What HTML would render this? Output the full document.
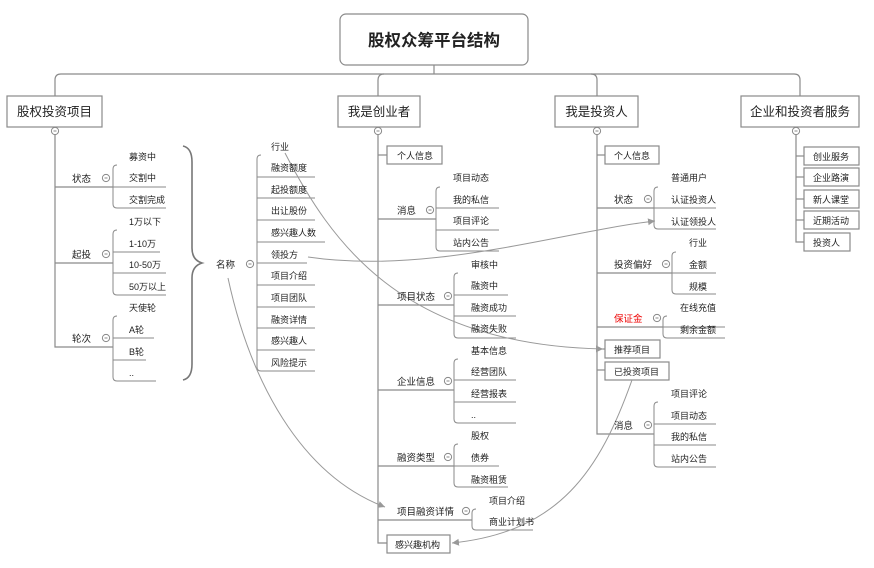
<!DOCTYPE html>
<html><head><meta charset="utf-8"><style>
html,body{margin:0;padding:0;background:#fff}
svg{display:block}
text{font-family:"Liberation Sans","Noto Sans CJK SC",sans-serif;fill:#222}
.s{font-size:9px}
.l{font-size:9.5px}
.b{font-size:12.5px}
</style></head><body>
<svg width="874" height="568" viewBox="0 0 874 568" xmlns="http://www.w3.org/2000/svg">
<defs>
<marker id="ar" markerWidth="8" markerHeight="8" refX="7" refY="4" orient="auto" markerUnits="userSpaceOnUse"><path d="M0,0.5 L7,4 L0,7.5 Z" fill="#999"/></marker>
</defs>
<g fill="none" stroke="#8a8a8a" stroke-width="1.2">
<!-- top connectors -->
<line x1="434" y1="65" x2="434" y2="74"/>
<path d="M55,96 V80 Q55,74 61,74 H794 Q800,74 800,80 V96"/>
<path d="M378,96 V80 Q378,74 384,74"/>
<path d="M597,96 V80 Q597,74 591,74"/>
<!-- left tree -->
<path d="M55,135 V347 H113"/>
<line x1="55" y1="187" x2="113" y2="187"/>
<line x1="55" y1="263" x2="113" y2="263"/>
<!-- creator -->
<path d="M378,135 V543 H387"/>
<line x1="378" y1="155" x2="387" y2="155"/>
<line x1="378" y1="219" x2="436" y2="219"/>
<line x1="378" y1="305" x2="454" y2="305"/>
<line x1="378" y1="390" x2="454" y2="390"/>
<line x1="378" y1="466" x2="454" y2="466"/>
<line x1="378" y1="520" x2="472" y2="520"/>
<!-- investor -->
<path d="M597,135 V434 H654"/>
<line x1="597" y1="155" x2="605" y2="155"/>
<line x1="597" y1="208" x2="654" y2="208"/>
<line x1="597" y1="273" x2="672" y2="273"/>
<line x1="597" y1="327" x2="663" y2="327"/>
<line x1="597" y1="349" x2="605" y2="349"/>
<line x1="597" y1="370" x2="605" y2="370"/>
<!-- service -->
<path d="M796,135 V242 H804"/>
<line x1="796" y1="156" x2="804" y2="156"/>
<line x1="796" y1="177" x2="804" y2="177"/>
<line x1="796" y1="199" x2="804" y2="199"/>
<line x1="796" y1="220" x2="804" y2="220"/>
</g>
<g fill="none" stroke="#8a8a8a" stroke-width="1">
<!-- brackets: M x+4,y1 Q x,y1 x,y1+4 V yN-4 Q x,yN x+4,yN -->
<path d="M117,165 Q113,165 113,169 V204 Q113,208 117,208 H166 M113,187 H166"/>
<path d="M117,230 Q113,230 113,234 V291 Q113,295 117,295 H166 M113,252 H160 M113,273 H166"/>
<path d="M117,316 Q113,316 113,320 V377 Q113,381 117,381 H156 M113,338 H154 M113,360 H146"/>
<path d="M261,155 Q257,155 257,159 V367 Q257,371 261,371 H315 M257,177 H315 M257,198 H315 M257,220 H315 M257,242 H325 M257,263 H307 M257,285 H315 M257,307 H315 M257,328 H315 M257,350 H315"/>
<path d="M440,187 Q436,187 436,191 V247 Q436,251 440,251 H499 M436,208 H499 M436,230 H499"/>
<path d="M458,273 Q454,273 454,277 V334 Q454,338 458,338 H516 M454,295 H508 M454,316 H516"/>
<path d="M458,359 Q454,359 454,363 V419 Q454,423 458,423 H516 M454,380 H516 M454,402 H516"/>
<path d="M458,444 Q454,444 454,448 V483 Q454,487 458,487 H508 M454,466 H499"/>
<path d="M476,509 Q472,509 472,513 V526 Q472,530 476,530 H533 M472,520 H472"/>
<path d="M658,187 Q654,187 654,191 V225 Q654,229 658,229 H716 M654,208 H716"/>
<path d="M676,252 Q672,252 672,256 V290 Q672,294 676,294 H716 M672,273 H716"/>
<path d="M667,316 Q663,316 663,320 V334 Q663,338 667,338 H725 M663,327 H725"/>
<path d="M658,402 Q654,402 654,406 V463 Q654,467 658,467 H716 M654,424 H716 M654,445 H716"/>
<!-- big brace -->
<path d="M183,146 Q192,148 192,162 V248 Q192,260 202,263 Q192,266 192,278 V364 Q192,378 183,380" stroke="#777" stroke-width="1.6"/>
</g>
<!-- boxes -->
<g fill="#fff" stroke="#8a8a8a" stroke-width="1.2">
<rect x="340" y="14" width="188" height="51" rx="6"/>
<rect x="7" y="96" width="95" height="31"/>
<rect x="338" y="96" width="82" height="31"/>
<rect x="555" y="96" width="83" height="31"/>
<rect x="741" y="96" width="118" height="31"/>
<rect x="387" y="146" width="55" height="18"/>
<rect x="387" y="535" width="63" height="18"/>
<rect x="605" y="146" width="54" height="18"/>
<rect x="605" y="340" width="55" height="18"/>
<rect x="605" y="362" width="64" height="18"/>
<rect x="804" y="147" width="55" height="18"/>
<rect x="804" y="168" width="55" height="18"/>
<rect x="804" y="190" width="55" height="18"/>
<rect x="804" y="211" width="55" height="18"/>
<rect x="804" y="233" width="46" height="18"/>
</g>
<!-- collapse circles -->
<g fill="#fff" stroke="#888" stroke-width="1">
<circle cx="55" cy="131" r="3.6"/><circle cx="378" cy="131" r="3.6"/><circle cx="597" cy="131" r="3.6"/><circle cx="796" cy="131" r="3.6"/>
<circle cx="106" cy="178" r="3.6"/><circle cx="106" cy="254" r="3.6"/><circle cx="106" cy="338" r="3.6"/>
<circle cx="250" cy="264" r="3.6"/>
<circle cx="430" cy="210" r="3.6"/><circle cx="448" cy="296" r="3.6"/><circle cx="448" cy="381" r="3.6"/><circle cx="448" cy="457" r="3.6"/><circle cx="466" cy="511" r="3.6"/>
<circle cx="648" cy="199" r="3.6"/><circle cx="666" cy="264" r="3.6"/><circle cx="657" cy="318" r="3.6"/><circle cx="648" cy="425" r="3.6"/>
</g>
<g stroke="#888" stroke-width="1">
<path d="M53.5,131h3M376.5,131h3M595.5,131h3M794.5,131h3M104.5,178h3M104.5,254h3M104.5,338h3M248.5,264h3M428.5,210h3M446.5,296h3M446.5,381h3M446.5,457h3M464.5,511h3M646.5,199h3M664.5,264h3M655.5,318h3M646.5,425h3"/>
</g>
<!-- cross links -->
<g fill="none" stroke="#999" stroke-width="1">
<path d="M285,153 C330,240 400,345 603,349" marker-end="url(#ar)"/>
<path d="M308,257 C430,275 560,232 655,221" marker-end="url(#ar)"/>
<path d="M228,278 C250,380 300,475 385,507" marker-end="url(#ar)"/>
<path d="M632,380 C600,470 560,532 452,543" marker-end="url(#ar)"/>
</g>
<!-- text -->
<text x="434" y="46" text-anchor="middle" style="font-size:16.5px;font-weight:bold">股权众筹平台结构</text>
<text class="b" x="54.5" y="116" text-anchor="middle">股权投资项目</text>
<text class="b" x="379" y="116" text-anchor="middle">我是创业者</text>
<text class="b" x="596.5" y="116" text-anchor="middle">我是投资人</text>
<text class="b" x="800" y="116" text-anchor="middle">企业和投资者服务</text>
<g class="l">
<text x="72" y="182">状态</text><text x="72" y="258">起投</text><text x="72" y="342">轮次</text>
<text x="216" y="268">名称</text>
<text x="397" y="214">消息</text><text x="397" y="300">项目状态</text><text x="397" y="385">企业信息</text><text x="397" y="461">融资类型</text><text x="397" y="515">项目融资详情</text>
<text x="614" y="203">状态</text><text x="614" y="268">投资偏好</text><text x="614" y="322" style="fill:#e00">保证金</text><text x="614" y="429">消息</text>
</g>
<g class="s">
<text x="129" y="160">募资中</text><text x="129" y="181">交割中</text><text x="129" y="203">交割完成</text>
<text x="129" y="225">1万以下</text><text x="129" y="247">1-10万</text><text x="129" y="268">10-50万</text><text x="129" y="290">50万以上</text>
<text x="129" y="311">天使轮</text><text x="129" y="333">A轮</text><text x="129" y="355">B轮</text><text x="129" y="376">..</text>
<text x="271" y="150">行业</text><text x="271" y="171">融资额度</text><text x="271" y="193">起投额度</text><text x="271" y="214">出让股份</text><text x="271" y="236">感兴趣人数</text><text x="271" y="258">领投方</text><text x="271" y="279">项目介绍</text><text x="271" y="301">项目团队</text><text x="271" y="323">融资详情</text><text x="271" y="344">感兴趣人</text><text x="271" y="366">风险提示</text>
<text x="397" y="159">个人信息</text><text x="395" y="548">感兴趣机构</text>
<text x="453" y="181">项目动态</text><text x="453" y="203">我的私信</text><text x="453" y="224">项目评论</text><text x="453" y="246">站内公告</text>
<text x="471" y="268">审核中</text><text x="471" y="289">融资中</text><text x="471" y="311">融资成功</text><text x="471" y="332">融资失败</text>
<text x="471" y="354">基本信息</text><text x="471" y="375">经营团队</text><text x="471" y="397">经营报表</text><text x="471" y="418">..</text>
<text x="471" y="439">股权</text><text x="471" y="461">债券</text><text x="471" y="483">融资租赁</text>
<text x="489" y="504">项目介绍</text><text x="489" y="525">商业计划书</text>
<text x="614" y="159">个人信息</text><text x="614" y="353">推荐项目</text><text x="614" y="375">已投资项目</text>
<text x="671" y="181">普通用户</text><text x="671" y="203">认证投资人</text><text x="671" y="225">认证领投人</text>
<text x="689" y="246">行业</text><text x="689" y="268">金额</text><text x="689" y="290">规模</text>
<text x="680" y="311">在线充值</text><text x="680" y="333">剩余金额</text>
<text x="671" y="397">项目评论</text><text x="671" y="419">项目动态</text><text x="671" y="440">我的私信</text><text x="671" y="462">站内公告</text>
<text x="813" y="160">创业服务</text><text x="813" y="181">企业路演</text><text x="813" y="203">新人课堂</text><text x="813" y="224">近期活动</text><text x="813" y="246">投资人</text>
</g>
</svg>
</body></html>
